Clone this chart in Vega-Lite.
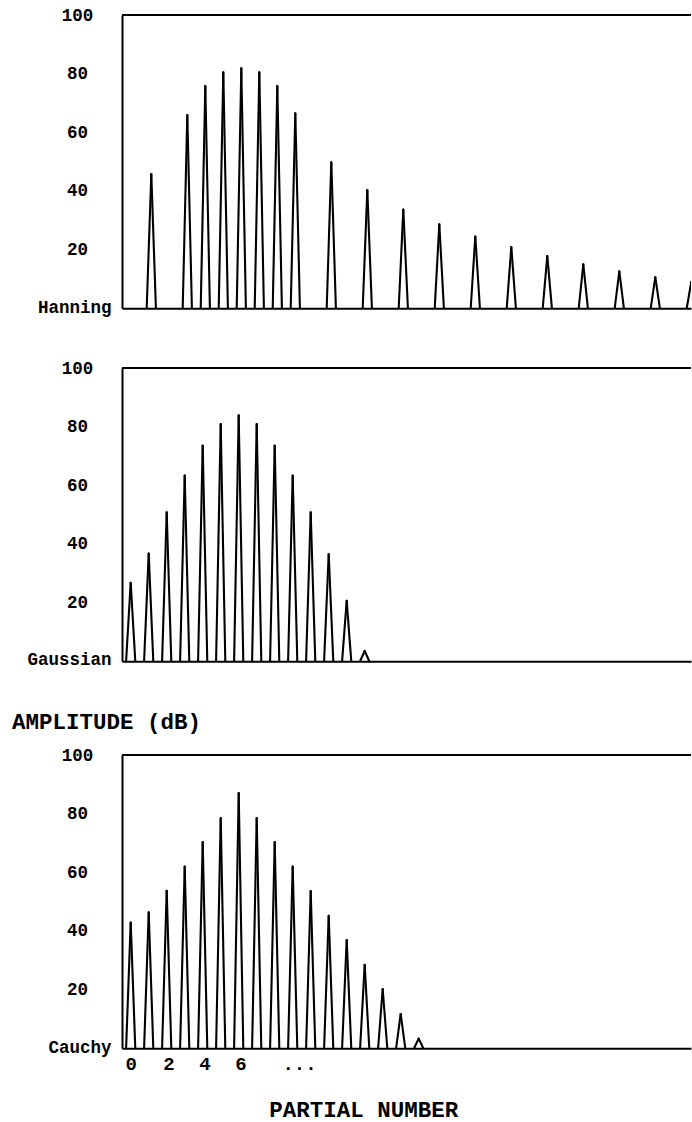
{
  "$schema": "https://vega.github.io/schema/vega-lite/v6.json",
  "background": "white",
  "padding": {"left": 12, "top": 6, "right": 0, "bottom": 6},
  "spacing": 43,
  "datasets": {
    "hanning": [
      {"partial": 1, "amp": 45.8}, {"partial": 3, "amp": 65.9}, {"partial": 4, "amp": 75.8},
      {"partial": 5, "amp": 80.5}, {"partial": 6, "amp": 81.8}, {"partial": 7, "amp": 80.5},
      {"partial": 8, "amp": 75.8}, {"partial": 9, "amp": 66.5}, {"partial": 11, "amp": 49.8},
      {"partial": 13, "amp": 40.3}, {"partial": 15, "amp": 33.7}, {"partial": 17, "amp": 28.6},
      {"partial": 19, "amp": 24.5}, {"partial": 21, "amp": 20.9}, {"partial": 23, "amp": 17.8},
      {"partial": 25, "amp": 15.0}, {"partial": 27, "amp": 12.6}, {"partial": 29, "amp": 10.6},
      {"partial": 31, "amp": 9.0}
    ],
    "gaussian": [
      {"partial": 0, "amp": 26.8}, {"partial": 1, "amp": 36.7}, {"partial": 2, "amp": 50.8},
      {"partial": 3, "amp": 63.3}, {"partial": 4, "amp": 73.6}, {"partial": 5, "amp": 80.9},
      {"partial": 6, "amp": 83.9}, {"partial": 7, "amp": 80.9}, {"partial": 8, "amp": 73.6},
      {"partial": 9, "amp": 63.3}, {"partial": 10, "amp": 50.8}, {"partial": 11, "amp": 36.6},
      {"partial": 12, "amp": 20.6}, {"partial": 13, "amp": 3.5}
    ],
    "cauchy": [
      {"partial": 0, "amp": 42.9}, {"partial": 1, "amp": 46.4}, {"partial": 2, "amp": 53.7},
      {"partial": 3, "amp": 62.0}, {"partial": 4, "amp": 70.3}, {"partial": 5, "amp": 78.5},
      {"partial": 6, "amp": 87.0}, {"partial": 7, "amp": 78.5}, {"partial": 8, "amp": 70.3},
      {"partial": 9, "amp": 62.0}, {"partial": 10, "amp": 53.6}, {"partial": 11, "amp": 45.2},
      {"partial": 12, "amp": 36.9}, {"partial": 13, "amp": 28.5}, {"partial": 14, "amp": 20.2},
      {"partial": 15, "amp": 11.7}, {"partial": 16, "amp": 3.3}
    ]
  },
  "vconcat": [
    {
      "width": 569, "height": 293.3,
      "data": {"name": "hanning"},
      "layer": [
        {
          "mark": {"type": "rule", "color": "black", "strokeWidth": 2.1, "x2Offset": -4.6, "clip": true, "strokeCap": "round"},
          "encoding": {
            "x": {"field": "partial", "type": "quantitative", "scale": {"domain": [-0.628, 30.983], "nice": false, "zero": false}, "axis": {"labels": false, "title": null}},
            "x2": {"field": "partial"},
            "y": {"field": "amp", "type": "quantitative", "scale": {"domain": [0, 100], "nice": false, "zero": false},
              "axis": {"values": [20, 40, 60, 80, 100], "labelAlign": "center", "labelBaseline": "middle", "labelPadding": 45, "labelFontSize": 17.5,
                "title": "Hanning", "titleAngle": 0, "titleX": -11, "titleY": 297.5, "titleAlign": "right", "titleBaseline": "alphabetic", "titleFontSize": 17.5}},
            "y2": {"datum": 0}
          }
        },
        {
          "mark": {"type": "rule", "color": "black", "strokeWidth": 2.1, "x2Offset": 4.6, "clip": true, "strokeCap": "round"},
          "encoding": {
            "x": {"field": "partial", "type": "quantitative"},
            "x2": {"field": "partial"},
            "y": {"field": "amp", "type": "quantitative"},
            "y2": {"datum": 0}
          }
        },
        {
          "data": {"values": [{}]},
          "mark": {"type": "rule", "color": "black", "strokeWidth": 2},
          "encoding": {"y": {"datum": 100, "type": "quantitative"}}
        }
      ]
    },
    {
      "width": 569, "height": 293.3,
      "data": {"name": "gaussian"},
      "layer": [
        {
          "mark": {"type": "rule", "color": "black", "strokeWidth": 2.1, "x2Offset": -4.6, "clip": true, "strokeCap": "round"},
          "encoding": {
            "x": {"field": "partial", "type": "quantitative", "scale": {"domain": [-0.483, 31.128], "nice": false, "zero": false}, "axis": {"labels": false, "title": null}},
            "x2": {"field": "partial"},
            "y": {"field": "amp", "type": "quantitative", "scale": {"domain": [0, 100], "nice": false, "zero": false},
              "axis": {"values": [20, 40, 60, 80, 100], "labelAlign": "center", "labelBaseline": "middle", "labelPadding": 45, "labelFontSize": 17.5,
                "title": "Gaussian", "titleAngle": 0, "titleX": -11, "titleY": 296.5, "titleAlign": "right", "titleBaseline": "alphabetic", "titleFontSize": 17.5}},
            "y2": {"datum": 0}
          }
        },
        {
          "mark": {"type": "rule", "color": "black", "strokeWidth": 2.1, "x2Offset": 4.6, "clip": true, "strokeCap": "round"},
          "encoding": {
            "x": {"field": "partial", "type": "quantitative"},
            "x2": {"field": "partial"},
            "y": {"field": "amp", "type": "quantitative"},
            "y2": {"datum": 0}
          }
        },
        {
          "data": {"values": [{}]},
          "mark": {"type": "rule", "color": "black", "strokeWidth": 2},
          "encoding": {"y": {"datum": 100, "type": "quantitative"}}
        }
      ]
    },
    {
      "width": 569, "height": 293.3,
      "title": {"text": "AMPLITUDE (dB)", "anchor": "start", "frame": "group", "dx": -110, "offset": 12.5},
      "data": {"name": "cauchy"},
      "layer": [
        {
          "mark": {"type": "rule", "color": "black", "strokeWidth": 2.1, "x2Offset": -4.6, "clip": true, "strokeCap": "round"},
          "encoding": {
            "x": {"field": "partial", "type": "quantitative", "scale": {"domain": [-0.483, 31.128], "nice": false, "zero": false},
              "axis": {"values": [0, 2.1, 4.1, 6.1, 9.35],
                "labelExpr": "datum.value < 1 ? '0' : datum.value < 3 ? '2' : datum.value < 5 ? '4' : datum.value < 7 ? '6' : '...'",
                "labelFontSize": 19, "labelPadding": 6, "labelBaseline": "top", "labelAlign": "center", "labelOverlap": false,
                "title": "PARTIAL NUMBER", "titleX": 241.3, "titleY": 68, "titleAlign": "center", "titleBaseline": "alphabetic", "titleFontSize": 22.5}},
            "x2": {"field": "partial"},
            "y": {"field": "amp", "type": "quantitative", "scale": {"domain": [0, 100], "nice": false, "zero": false},
              "axis": {"values": [20, 40, 60, 80, 100], "labelAlign": "center", "labelBaseline": "middle", "labelPadding": 45, "labelFontSize": 17.5,
                "title": "Cauchy", "titleAngle": 0, "titleX": -11, "titleY": 297, "titleAlign": "right", "titleBaseline": "alphabetic", "titleFontSize": 17.5}},
            "y2": {"datum": 0}
          }
        },
        {
          "mark": {"type": "rule", "color": "black", "strokeWidth": 2.1, "x2Offset": 4.6, "clip": true, "strokeCap": "round"},
          "encoding": {
            "x": {"field": "partial", "type": "quantitative"},
            "x2": {"field": "partial"},
            "y": {"field": "amp", "type": "quantitative"},
            "y2": {"datum": 0}
          }
        },
        {
          "data": {"values": [{}]},
          "mark": {"type": "rule", "color": "black", "strokeWidth": 2},
          "encoding": {"y": {"datum": 100, "type": "quantitative"}}
        }
      ]
    }
  ],
  "config": {
    "view": {"stroke": null},
    "font": "Liberation Mono",
    "axis": {
      "labelFont": "Liberation Mono", "titleFont": "Liberation Mono",
      "labelFontWeight": "bold", "titleFontWeight": "bold",
      "labelColor": "black", "titleColor": "black",
      "domainColor": "black", "domainWidth": 2,
      "grid": false, "ticks": false, "tickSize": 0, "labelFlush": false
    },
    "title": {"font": "Liberation Mono", "fontSize": 22.5, "fontWeight": "bold", "color": "black"}
  }
}
